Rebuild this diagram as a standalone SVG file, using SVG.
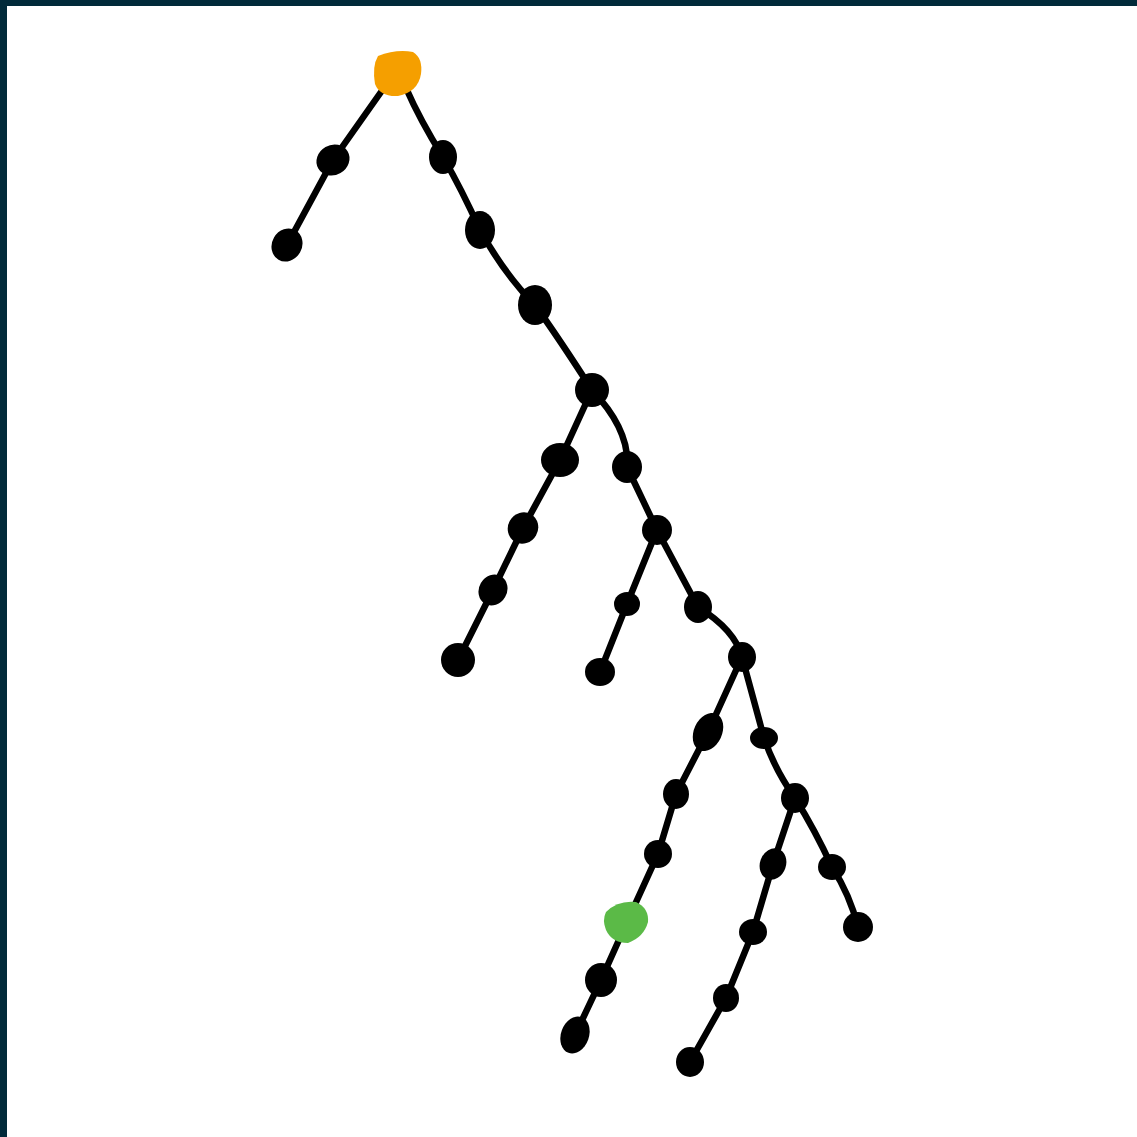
<svg xmlns="http://www.w3.org/2000/svg" width="1137" height="1137" viewBox="0 0 1137 1137">
<style>
.edge{fill:none;stroke:#000;stroke-width:6.5;stroke-linecap:round;stroke-linejoin:round}
.n{fill:#000}
</style>
<rect x="0" y="0" width="1137" height="1137" fill="#fff"/>
<rect x="0" y="0" width="1137" height="6" fill="#012a3a"/>
<rect x="0" y="0" width="7" height="1137" fill="#012a3a"/>
<g id="connectors">
<path class="edge" d="M381 92 L333 160 L287 245"/>
<path class="edge" d="M406 88 Q420 120 443 157 Q462 190 480 230 Q505 275 535 305 Q560 340 592 390"/>
<path class="edge" d="M592 390 L560 460 L523 528 L493 590 L458 660"/>
<path class="edge" d="M592 390 Q630 430 627 467 L657 530"/>
<path class="edge" d="M657 530 L627 604 L600 672"/>
<path class="edge" d="M657 530 L698 607 Q735 630 742 657"/>
<path class="edge" d="M742 657 L708 732 L676 794 L658 854 L627 922 L601 980 L575 1035"/>
<path class="edge" d="M742 657 L764 738 Q775 770 795 798"/>
<path class="edge" d="M795 798 L773 864 L753 932 L726 998 L690 1062"/>
<path class="edge" d="M795 798 Q815 830 832 867 Q850 895 858 927"/>
</g>
<g id="n0"><path d="M378 56 Q396 49 413 52 Q423 58 421 74 Q418 92 398 96 Q380 97 375 84 Q372 66 378 56 Z" fill="#f59f00"/></g>
<g id="n1"><ellipse class="n" cx="333" cy="160" rx="17" ry="15" transform="rotate(-30 333 160)"/></g>
<g id="n2"><ellipse class="n" cx="287" cy="245" rx="15" ry="17" transform="rotate(30 287 245)"/></g>
<g id="n3"><ellipse class="n" cx="443" cy="157" rx="14" ry="17"/></g>
<g id="n4"><ellipse class="n" cx="480" cy="230" rx="15" ry="19"/></g>
<g id="n5"><ellipse class="n" cx="535" cy="305" rx="17" ry="20"/></g>
<g id="n6"><ellipse class="n" cx="592" cy="390" rx="17" ry="17"/></g>
<g id="n7"><ellipse class="n" cx="560" cy="460" rx="19" ry="17"/></g>
<g id="n8"><ellipse class="n" cx="523" cy="528" rx="15" ry="16" transform="rotate(30 523 528)"/></g>
<g id="n9"><ellipse class="n" cx="493" cy="590" rx="14" ry="16" transform="rotate(30 493 590)"/></g>
<g id="n10"><ellipse class="n" cx="458" cy="660" rx="17" ry="17"/></g>
<g id="n11"><ellipse class="n" cx="627" cy="467" rx="15" ry="16"/></g>
<g id="n12"><ellipse class="n" cx="657" cy="530" rx="15" ry="15"/></g>
<g id="n13"><ellipse class="n" cx="627" cy="604" rx="13" ry="12"/></g>
<g id="n14"><ellipse class="n" cx="600" cy="672" rx="15" ry="14"/></g>
<g id="n15"><ellipse class="n" cx="698" cy="607" rx="14" ry="16"/></g>
<g id="n16"><ellipse class="n" cx="742" cy="657" rx="14" ry="15"/></g>
<g id="n17"><ellipse class="n" cx="708" cy="732" rx="14" ry="20" transform="rotate(25 708 732)"/></g>
<g id="n18"><ellipse class="n" cx="676" cy="794" rx="13" ry="15"/></g>
<g id="n19"><ellipse class="n" cx="658" cy="854" rx="14" ry="14"/></g>
<g id="n20"><path d="M606 912 Q618 900 636 902 Q649 908 648 922 Q644 937 628 943 Q612 943 606 930 Q602 920 606 912 Z" fill="#5bba47"/></g>
<g id="n21"><ellipse class="n" cx="601" cy="980" rx="16" ry="17"/></g>
<g id="n22"><ellipse class="n" cx="575" cy="1035" rx="14" ry="19" transform="rotate(20 575 1035)"/></g>
<g id="n23"><ellipse class="n" cx="764" cy="738" rx="14" ry="11"/></g>
<g id="n24"><ellipse class="n" cx="795" cy="798" rx="14" ry="15"/></g>
<g id="n25"><ellipse class="n" cx="773" cy="864" rx="13" ry="16" transform="rotate(20 773 864)"/></g>
<g id="n26"><ellipse class="n" cx="753" cy="932" rx="14" ry="13"/></g>
<g id="n27"><ellipse class="n" cx="726" cy="998" rx="13" ry="14"/></g>
<g id="n28"><ellipse class="n" cx="690" cy="1062" rx="14" ry="15"/></g>
<g id="n29"><ellipse class="n" cx="832" cy="867" rx="14" ry="13"/></g>
<g id="n30"><ellipse class="n" cx="858" cy="927" rx="15" ry="15"/></g>
</svg>
